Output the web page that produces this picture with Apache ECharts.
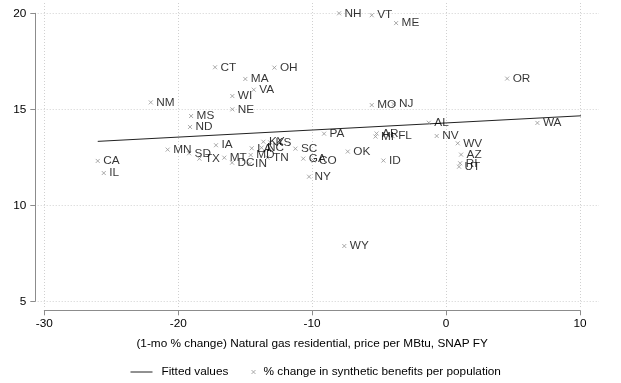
<!DOCTYPE html>
<html>
<head>
<meta charset="utf-8">
<script src="https://cdn.jsdelivr.net/npm/echarts@6/dist/echarts.min.js"></script>
<style>
  html, body { margin: 0; padding: 0; background: #fff; }
  #chart { width: 621px; height: 383px; }
</style>
</head>
<body>
<div id="chart"></div>
<script>
// State abbreviations and their values
const states = ['CT','OH','MA','VA','WI','NE','NM','MS','ND','NH','VT','ME','OR','MO','NJ','DE','AL','WA','PA','AR','MI','FL','NV','WV','AZ','RI','UT','OK','ID','NY','WY','GA','CO','SC','CA','IL','MN','SD','TX','IA','MT','DC','LA','MD','IN','KY','NC','KS','TN'];

// (1-mo % change) natural gas residential price
const gasChange = [-17.25,-12.82,-14.99,-14.36,-15.96,-15.96,-22.05,-19.04,-19.12,-7.99,-5.55,-3.73,4.56,-5.55,-3.92,10.83,-1.29,6.82,-9.11,-5.19,-5.27,-3.99,-0.70,0.87,1.12,1.05,0.97,-7.34,-4.68,-10.23,-7.60,-10.66,-9.90,-11.25,-26.01,-25.56,-20.79,-19.19,-18.42,-17.18,-16.56,-15.98,-14.51,-14.59,-14.67,-13.64,-13.78,-13.14,-13.34];

// % change in synthetic benefits per population
const benefitChange = [17.19,17.17,16.58,16.02,15.69,15.00,15.36,14.65,14.08,20.00,19.90,19.49,16.60,15.22,15.27,15.05,14.30,14.29,13.73,13.74,13.58,13.60,13.61,13.23,12.64,12.19,12.01,12.80,12.33,11.49,7.88,12.43,12.33,12.95,12.31,11.68,12.90,12.71,12.43,13.13,12.48,12.22,12.97,12.62,12.15,13.31,13.00,13.28,12.48];

// Fitted line end points
const fitX = [-26.01, 10.83];
const fitY = [13.33, 14.69];

// Axis ticks
const xTicks = [-30, -20, -10, 0, 10];
const yTicks = [5, 10, 15, 20];

const FONT = '"Liberation Sans", Arial, Helvetica, sans-serif';
const FS = 11.8;
const TEXT = '#000';
const pointColor = '#959595';
const crossPath = 'path://M0,0L10,10M10,0L0,10';

const chart = echarts.init(document.getElementById('chart'), null, { renderer: 'canvas' });

const scatterData = states.map((s, i) => ({ name: s, value: [gasChange[i], benefitChange[i]] }));
const fitData = fitX.map((x, i) => [x, fitY[i]]);

chart.setOption({
  animation: false,
  backgroundColor: '#fff',
  textStyle: { fontFamily: FONT },
  grid: [
    // plotting region with the axes
    { left: 44.3, right: 41, top: 13.3, bottom: 81.7 },
    // slightly larger region carrying the dotted grid lines
    { left: 37.7, right: 22, top: 3, bottom: 75, z: 0 }
  ],
  xAxis: [
    {
      gridIndex: 0, type: 'value', min: -30, max: 10, interval: 10,
      offset: 9,
      axisLine: { show: true, onZero: false, lineStyle: { color: '#8c8c8c', width: 1 } },
      axisTick: { show: true, length: 5, lineStyle: { color: '#8c8c8c' } },
      axisLabel: { color: TEXT, fontSize: FS, fontFamily: FONT, margin: 7 },
      splitLine: { show: false },
      name: '(1-mo % change) Natural gas residential, price per MBtu, SNAP FY',
      nameLocation: 'middle', nameGap: 27,
      nameTextStyle: { color: TEXT, fontSize: FS, fontFamily: FONT }
    },
    {
      gridIndex: 1, type: 'value', min: -30.49, max: 11.42,
      axisLine: { show: false },
      axisTick: { show: false, customValues: xTicks },
      axisLabel: { show: false, customValues: xTicks },
      splitLine: { show: true, lineStyle: { color: '#d0d0d0', type: [1, 2], width: 1 } }
    }
  ],
  yAxis: [
    {
      gridIndex: 0, type: 'value', min: 5, max: 20, interval: 5,
      offset: 9,
      axisLine: { show: true, onZero: false, lineStyle: { color: '#8c8c8c', width: 1 } },
      axisTick: { show: true, length: 5, lineStyle: { color: '#8c8c8c' } },
      axisLabel: { color: TEXT, fontSize: FS, fontFamily: FONT, margin: 9 },
      splitLine: { show: false }
    },
    {
      gridIndex: 1, type: 'value', min: 4.65, max: 20.54,
      axisLine: { show: false },
      axisTick: { show: false, customValues: yTicks },
      axisLabel: { show: false, customValues: yTicks },
      splitLine: { show: true, lineStyle: { color: '#d0d0d0', type: [1, 2], width: 1 } }
    }
  ],
  legend: [
    {
      data: ['Fitted values'],
      left: 125, top: 361,
      itemWidth: 22, itemHeight: 10, itemGap: 10,
      itemStyle: { opacity: 0 },
      lineStyle: { color: '#222', width: 1 },
      textStyle: { color: TEXT, fontSize: FS, fontFamily: FONT, padding: [0, 0, 0, 4] }
    },
    {
      data: [{ name: '% change in synthetic benefits per population', icon: crossPath }],
      left: 246, top: 361,
      itemWidth: 4, itemHeight: 4,
      itemStyle: { color: 'rgba(0,0,0,0)', borderColor: pointColor, borderWidth: 1 },
      textStyle: { color: TEXT, fontSize: FS, fontFamily: FONT, padding: [0, 0, 0, 3] }
    }
  ],
  series: [
    {
      name: 'Fitted values',
      type: 'line',
      xAxisIndex: 0, yAxisIndex: 0,
      data: fitData,
      symbol: 'none',
      itemStyle: { color: '#222' },
      lineStyle: { color: '#222', width: 1 },
      z: 3
    },
    {
      name: '% change in synthetic benefits per population',
      type: 'scatter',
      xAxisIndex: 0, yAxisIndex: 0,
      data: scatterData,
      symbol: crossPath,
      symbolSize: 4,
      itemStyle: { color: 'rgba(0,0,0,0)', borderColor: pointColor, borderWidth: 1 },
      label: {
        show: true, position: 'right', distance: 3,
        formatter: '{b}', color: TEXT, fontSize: FS, fontFamily: FONT
      },
      emphasis: { disabled: true },
      z: 4
    }
  ]
});
</script>
</body>
</html>
